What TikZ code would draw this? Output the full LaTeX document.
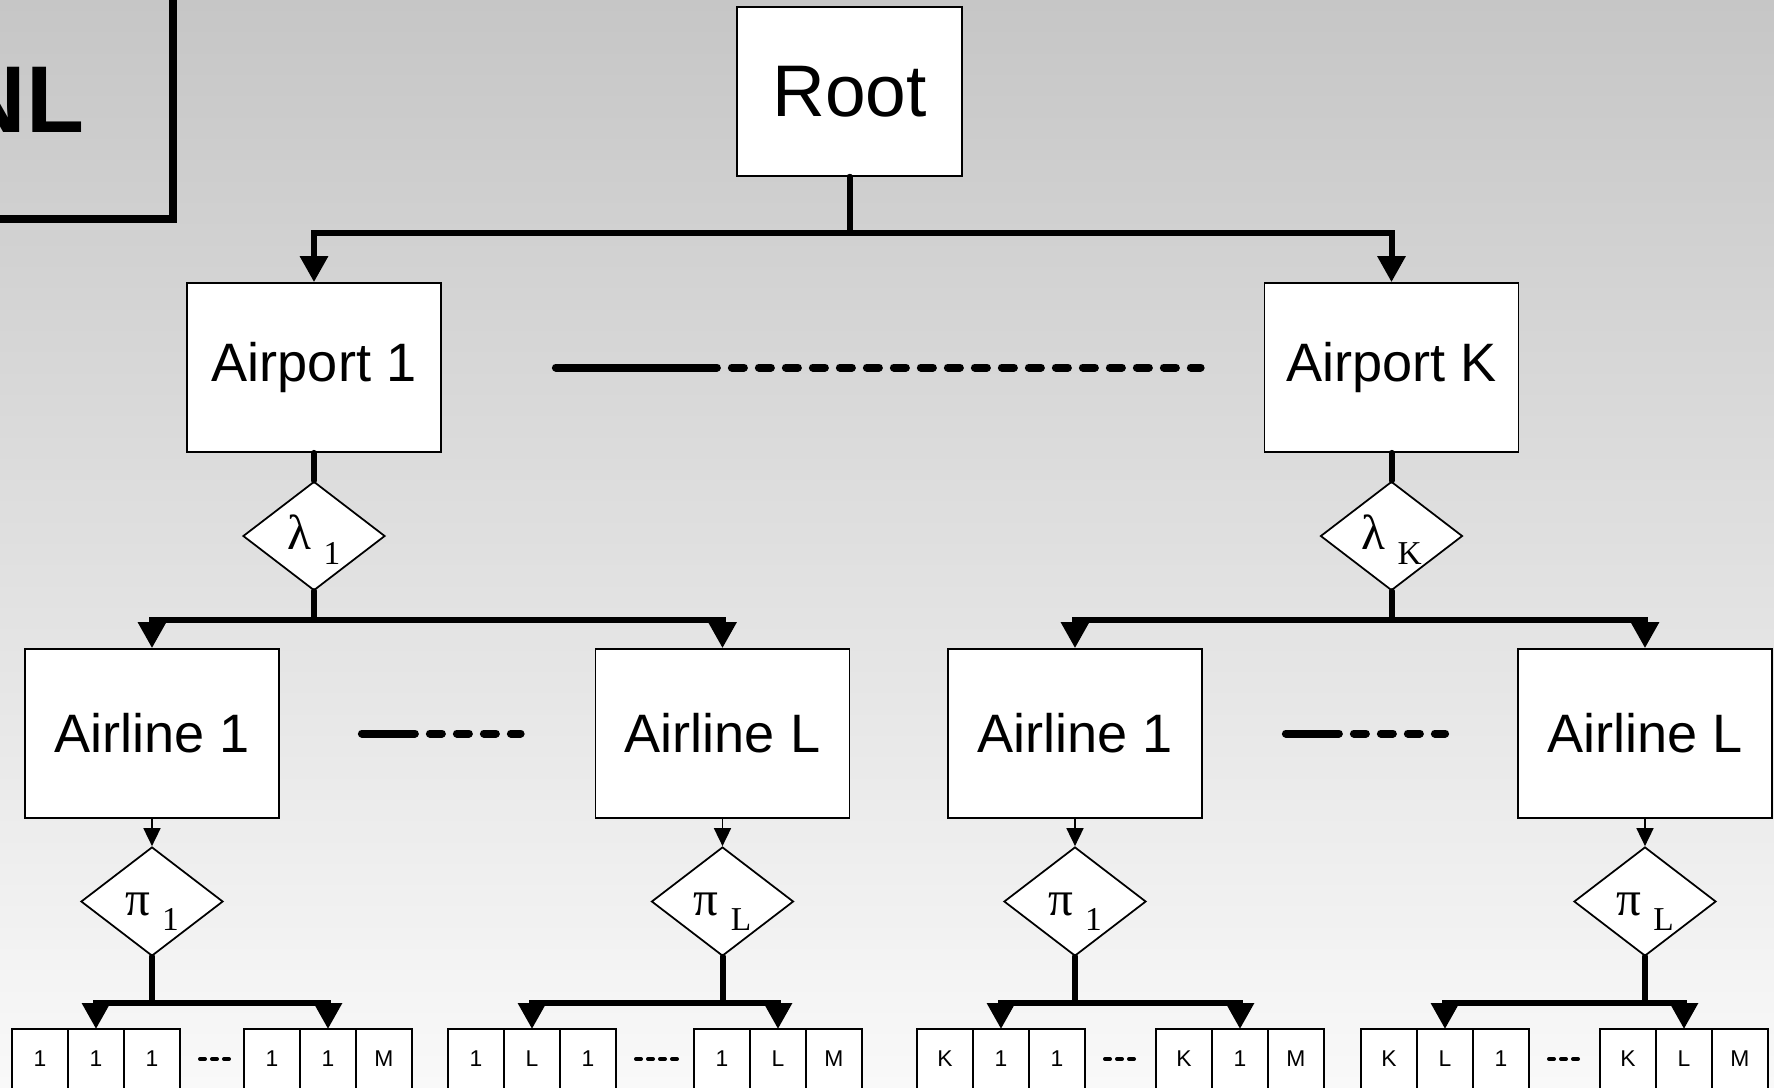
\documentclass[tikz,border=0pt]{standalone}
\usepackage{fontspec}
\setmainfont{Liberation Sans}
\newfontfamily\greekfont{Liberation Serif}
\usetikzlibrary{arrows.meta,positioning,shapes.geometric}

\definecolor{bgtop}{RGB}{198,198,198}
\definecolor{bgmid}{RGB}{217,217,217}
\definecolor{bgbot}{RGB}{249,249,249}

\newcommand{\lowidx}[1]{\ \raisebox{-0.15cm}{\fontsize{9.5}{9.5}\selectfont #1}}

\begin{document}
\begin{tikzpicture}[
	box/.style={draw, line width=0.5pt, fill=white, minimum width=2.54cm, minimum height=1.69cm, inner sep=0pt, font=\fontsize{15.4}{16}\selectfont},
	choice/.style={diamond, draw, line width=0.5pt, fill=white, aspect=1.31, minimum width=1.42cm, minimum height=1.09cm, inner sep=0pt, text height=0.36cm, text depth=0.09cm, font=\greekfont\fontsize{14}{14}\selectfont},
	cell/.style={draw, line width=0.5pt, fill=white, minimum width=0.56cm, minimum height=0.6cm, inner sep=0pt, outer sep=0pt, font=\fontsize{6.5}{7}\selectfont},
	titlebox/.style={draw, line width=0.075cm, minimum width=3.04cm, minimum height=2.38cm, font=\bfseries\fontsize{27}{28}\selectfont},
	bus/.style={line width=0.06cm, line cap=round, -{Triangle[width=0.27cm,length=0.26cm]}},
	stem/.style={line width=0.06cm, line cap=round},
	feed/.style={line width=0.5pt, -{Triangle[width=0.17cm,length=0.18cm]}},
	sepline/.style={line width=0.08cm, line cap=round},
	sepdash/.style={dash pattern=on 0.12cm off 0.15cm},
	smalldash/.style={line width=0.04cm, line cap=round, dash pattern=on 0.05cm off 0.07cm}]

	% background
	\useasboundingbox (0,0) rectangle (17.74,-10.87);
	\clip (0,0) rectangle (17.74,-10.87);
	\shade[top color=bgtop, middle color=bgmid, bottom color=bgbot] (0,0) rectangle (17.74,-10.87);

	% title box (cut by the border)
	\node[titlebox] (nl) at (0.21,-1.00) {NL};

	% LEVEL 0 AND 1
	\node[box, minimum width=2.25cm, font=\fontsize{20.8}{22}\selectfont] (root) at (8.495,-0.915) {Root};
	\node[box] (ap1) at (3.14,-3.675) {Airport 1}; % first airport
	\node[box] (apK) at (13.915,-3.675) {Airport K}; % last airport
	\node[choice] (lam1) at (3.14,-5.36) {λ\lowidx{1}};
	\node[choice] (lamK) at (13.915,-5.36) {λ\lowidx{K}};

	% LEVEL 2
	\node[box] (al11) at (1.52,-7.335) {Airline 1};
	\node[box] (al1L) at (7.225,-7.335) {Airline L};
	\node[box] (al21) at (10.75,-7.335) {Airline 1};
	\node[box] (al2L) at (16.45,-7.335) {Airline L};
	\node[choice] (pi11) at (1.52,-9.015) {π\lowidx{1}};
	\node[choice] (pi1L) at (7.225,-9.015) {π\lowidx{L}};
	\node[choice] (pi21) at (10.75,-9.015) {π\lowidx{1}};
	\node[choice] (pi2L) at (16.45,-9.015) {π\lowidx{L}};

	% LEAVES
	\node[cell, anchor=north] (g1a1) at (0.40,-10.29) {1}; \node[cell, right=0pt of g1a1] (g1a2) {1}; \node[cell, right=0pt of g1a2] (g1a3) {1};
	\node[cell, anchor=north] (g1b1) at (2.72,-10.29) {1}; \node[cell, right=0pt of g1b1] (g1b2) {1}; \node[cell, right=0pt of g1b2] (g1b3) {M};
	\node[cell, anchor=north] (g2a1) at (4.76,-10.29) {1}; \node[cell, right=0pt of g2a1] (g2a2) {L}; \node[cell, right=0pt of g2a2] (g2a3) {1};
	\node[cell, anchor=north] (g2b1) at (7.22,-10.29) {1}; \node[cell, right=0pt of g2b1] (g2b2) {L}; \node[cell, right=0pt of g2b2] (g2b3) {M};
	\node[cell, anchor=north] (g3a1) at (9.45,-10.29) {K}; \node[cell, right=0pt of g3a1] (g3a2) {1}; \node[cell, right=0pt of g3a2] (g3a3) {1};
	\node[cell, anchor=north] (g3b1) at (11.84,-10.29) {K}; \node[cell, right=0pt of g3b1] (g3b2) {1}; \node[cell, right=0pt of g3b2] (g3b3) {M};
	\node[cell, anchor=north] (g4a1) at (13.89,-10.29) {K}; \node[cell, right=0pt of g4a1] (g4a2) {L}; \node[cell, right=0pt of g4a2] (g4a3) {1};
	\node[cell, anchor=north] (g4b1) at (16.28,-10.29) {K}; \node[cell, right=0pt of g4b1] (g4b2) {L}; \node[cell, right=0pt of g4b2] (g4b3) {M};

	% DRAW TREE
	\draw[bus] (root.south) -- ++(0,-0.56) -| (ap1.north); \draw[bus] (root.south) -- ++(0,-0.56) -| (apK.north);
	\draw[stem] (ap1.south) -- (lam1.north); \draw[stem] (apK.south) -- (lamK.north);
	\draw[bus] (lam1.south) -- ++(0,-0.29) -| (al11.north); \draw[bus] (lam1.south) -- ++(0,-0.29) -| (al1L.north);
	\draw[bus] (lamK.south) -- ++(0,-0.29) -| (al21.north); \draw[bus] (lamK.south) -- ++(0,-0.29) -| (al2L.north);
	\draw[feed] (al11.south) -- (pi11.north); \draw[feed] (al1L.south) -- (pi1L.north);
	\draw[feed] (al21.south) -- (pi21.north); \draw[feed] (al2L.south) -- (pi2L.north);
	\draw[bus] (pi11.south) -- ++(0,-0.46) -| (g1a2.north); \draw[bus] (pi11.south) -- ++(0,-0.46) -| (g1b2.north);
	\draw[bus] (pi1L.south) -- ++(0,-0.46) -| (g2a2.north); \draw[bus] (pi1L.south) -- ++(0,-0.46) -| (g2b2.north);
	\draw[bus] (pi21.south) -- ++(0,-0.46) -| (g3a2.north); \draw[bus] (pi21.south) -- ++(0,-0.46) -| (g3b2.north);
	\draw[bus] (pi2L.south) -- ++(0,-0.46) -| (g4a2.north); \draw[bus] (pi2L.south) -- ++(0,-0.46) -| (g4b2.north);

	% DRAW GAPS
	\draw[sepline] ([xshift=1.14cm]ap1.east) -- ++(1.61,0) coordinate (s0);
	\draw[sepline, sepdash] ([xshift=0.15cm]s0) -- ([xshift=-0.63cm]apK.west);
	\draw[sepline] ([xshift=0.82cm]al11.east) -- ++(0.53,0) coordinate (s1);
	\draw[sepline, sepdash] ([xshift=0.15cm]s1) -- ([xshift=-0.74cm]al1L.west);
	\draw[sepline] ([xshift=0.83cm]al21.east) -- ++(0.53,0) coordinate (s2);
	\draw[sepline, sepdash] ([xshift=0.15cm]s2) -- ([xshift=-0.72cm]al2L.west);
	\draw[smalldash] ([xshift=0.2cm]g1a3.east) -- ([xshift=-0.15cm]g1b1.west);
	\draw[smalldash] ([xshift=0.2cm]g2a3.east) -- ([xshift=-0.15cm]g2b1.west);
	\draw[smalldash] ([xshift=0.2cm]g3a3.east) -- ([xshift=-0.15cm]g3b1.west);
	\draw[smalldash] ([xshift=0.2cm]g4a3.east) -- ([xshift=-0.15cm]g4b1.west);
\end{tikzpicture}
\end{document}
